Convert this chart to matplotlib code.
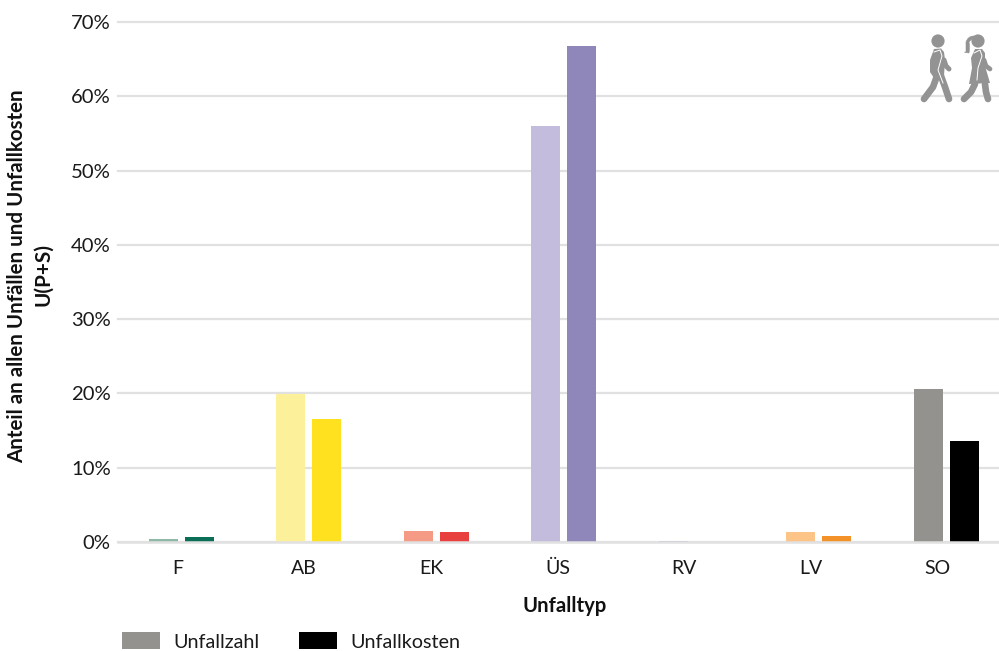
import matplotlib
matplotlib.use("Agg")
import matplotlib.pyplot as plt
from matplotlib.patches import Circle, Polygon, PathPatch, Rectangle
from matplotlib.path import Path
from matplotlib.lines import Line2D

categories = ["F", "AB", "EK", "ÜS", "RV", "LV", "SO"]
unfallzahl = [0.4, 19.9, 1.5, 56.0, 0.2, 1.3, 20.6]
unfallkosten = [0.7, 16.6, 1.3, 66.8, 0.05, 0.8, 13.6]
zahl_colors = ["#8fb8a6", "#fdf09b", "#f59a85", "#c3bcdc", "#a9a9cc", "#fdc488", "#93928e"]
kosten_colors = ["#0b6e57", "#ffe11f", "#e83f3f", "#8f87ba", "#c8c8d8", "#f39229", "#000000"]
y_ticks = [0, 10, 20, 30, 40, 50, 60, 70]
legend_labels = ["Unfallzahl", "Unfallkosten"]
legend_colors = ["#93928e", "#000000"]

W, H = 999, 651
plt.rcParams["font.family"] = ["Lato", "DejaVu Sans"]
fig = plt.figure(figsize=(W / 100, H / 100), dpi=100, facecolor="white")
ax = fig.add_axes([117.6 / W, 1 - 542 / H, 881.4 / W, 520 / H])

bar_w = 0.228
offset = 0.141
xs = list(range(len(categories)))
ax.bar([x - offset for x in xs], unfallzahl, width=bar_w, color=zahl_colors, zorder=3)
ax.bar([x + offset for x in xs], unfallkosten, width=bar_w, color=kosten_colors, zorder=3)

ax.set_xlim(-0.5, 6.415)
ax.set_ylim(0, 70)
ax.set_yticks(y_ticks)
ax.set_yticklabels([f"{v}%" for v in y_ticks], fontsize=14.6, color="#1a1a1a")
# category labels sit on a slightly tighter spacing than the bar groups
ax.set_xticks([x * 0.994 - 0.03 for x in xs])
ax.set_xticklabels(categories, fontsize=14, color="#1a1a1a")
ax.tick_params(axis="both", length=0)
ax.tick_params(axis="y", pad=5)
ax.tick_params(axis="x", pad=13)
ax.grid(axis="y", color="#e1e1e1", linewidth=1.6, zorder=1, clip_on=False)
ax.grid(axis="x", visible=False)
ax.set_axisbelow(True)
for s in ax.spines.values():
    s.set_visible(False)
ax.axhline(0, color="#e1e1e1", linewidth=1.8, zorder=4, clip_on=False)

# Text and decoration are placed on a full-figure overlay in pixel units
ov = fig.add_axes([0, 0, 1, 1], facecolor="none")
ov.set_xlim(0, W)
ov.set_ylim(H, 0)
ov.axis("off")

ov.text(564.5, 605.5, "Unfalltyp", ha="center", va="center", fontsize=14.6, fontweight="bold", color="#111111")
ov.text(17, 276, "Anteil an allen Unfällen und Unfallkosten", rotation=90, ha="center", va="center",
        fontsize=14.8, fontweight="bold", color="#111111")
ov.text(43, 275, "U(P+S)", rotation=90, ha="center", va="center",
        fontsize=14.9, fontweight="bold", color="#111111")

for x0, tx, lab, col in zip([122, 299], [173.5, 350.5], legend_labels, legend_colors):
    ov.add_patch(Rectangle((x0, 632), 38, 17, color=col, lw=0))
    ov.text(tx, 642, lab, ha="left", va="center", fontsize=14.2, color="#1a1a1a")

# Pedestrian pictograms
G = "#939393"
def limb(pts, lw):
    xs_, ys_ = zip(*pts)
    ov.add_line(Line2D(xs_, ys_, color=G, lw=lw, solid_capstyle="round", solid_joinstyle="round", zorder=2))

# walking man
ov.add_patch(Circle((938, 41), 6.6, color=G, lw=0))
ov.add_patch(Polygon([(934, 49), (941, 48.5), (944, 52), (945, 60), (944, 76), (934, 78), (930, 72), (930, 60)],
                     closed=True, color=G, lw=0, zorder=2))
limb([(937, 76), (933, 87), (924, 99)], 4.8)
limb([(941, 76), (945, 87), (949, 99)], 4.8)
limb([(944, 60), (946, 66), (949, 69)], 3.6)
ov.add_line(Line2D([934, 940, 942, 938, 943], [52, 50, 56, 70, 83], color="white", lw=0.7, zorder=3))

# walking woman
ov.add_patch(Circle((978, 41), 6.6, color=G, lw=0))
ov.add_patch(PathPatch(Path([(974, 36), (968, 36), (966, 42), (966, 47), (966, 52), (961, 52),
                             (969, 53), (970, 47), (969, 42), (972, 39), (974, 36)],
                            [Path.MOVETO, Path.CURVE3, Path.CURVE3, Path.CURVE3, Path.CURVE3, Path.CURVE3,
                             Path.CURVE3, Path.CURVE3, Path.CURVE3, Path.CURVE3, Path.CURVE3]),
                       fc=G, ec=G, lw=0.4))
ov.add_patch(Polygon([(975, 49), (982, 49), (985, 53), (985, 66), (990, 83), (969, 84), (972, 68), (971, 58)],
                     closed=True, color=G, lw=0, zorder=2))
limb([(975, 84), (971, 92), (964, 99)], 4.8)
limb([(985, 84), (986, 92), (988, 99)], 4.8)
limb([(984, 60), (986, 66), (990, 69)], 3.4)
ov.add_line(Line2D([974, 980, 982, 978, 977], [53, 50, 56, 68, 80], color="white", lw=0.7, zorder=3))

fig.savefig("out.png", dpi=100, facecolor="white")
